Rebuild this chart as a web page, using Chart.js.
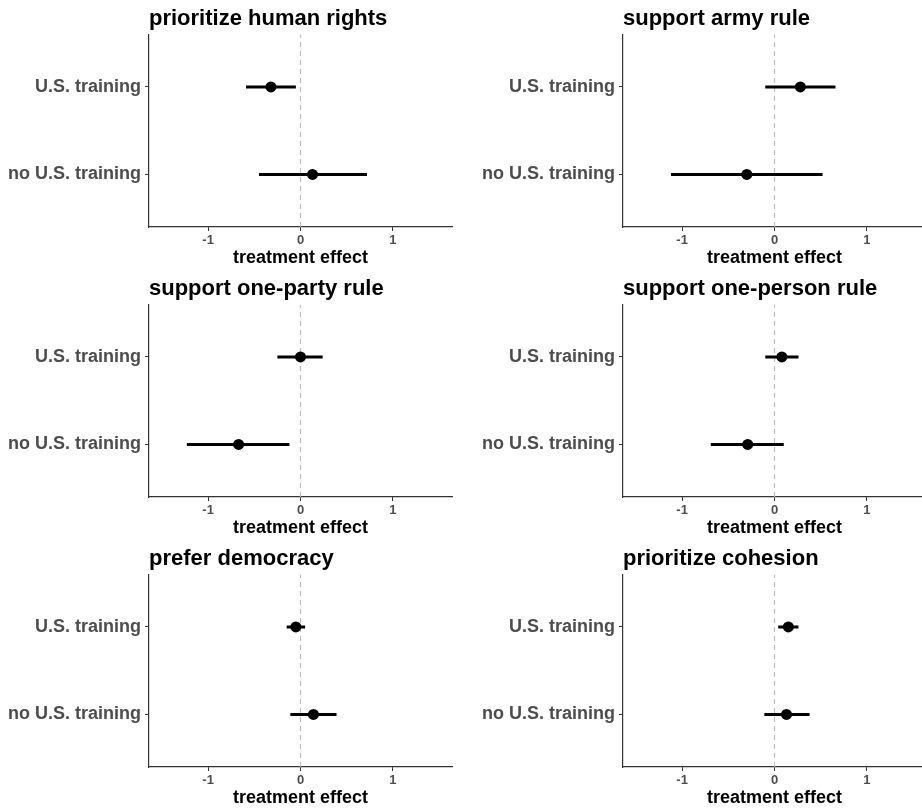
<!DOCTYPE html>
<html>
<head>
<meta charset="utf-8">
<script src="https://cdn.jsdelivr.net/npm/chart.js@4.4.0/dist/chart.umd.min.js"></script>
<style>
  body { margin: 0; background: #fff; width: 922px; height: 809px; overflow: hidden; position: relative; }
  canvas { position: absolute; }
</style>
</head>
<body>
<canvas id="p0" width="474" height="270" style="left:0px;top:0px"></canvas>
<canvas id="p1" width="474" height="270" style="left:474px;top:0px"></canvas>
<canvas id="p2" width="474" height="270" style="left:0px;top:270px"></canvas>
<canvas id="p3" width="474" height="270" style="left:474px;top:270px"></canvas>
<canvas id="p4" width="474" height="270" style="left:0px;top:540px"></canvas>
<canvas id="p5" width="474" height="270" style="left:474px;top:540px"></canvas>
<script>
// panel titles (row by row)
const titles = ['prioritize human rights', 'support army rule', 'support one-party rule',
                'support one-person rule', 'prefer democracy', 'prioritize cohesion']
const groups = ['U.S. training', 'no U.S. training']
const xTicks = [-1, 0, 1]

// estimates and intervals, one value per panel
const usEst  = [-0.32,  0.28,  0.00,  0.08, -0.05, 0.15]
const usLow  = [-0.59, -0.10, -0.25, -0.10, -0.15, 0.04]
const usHigh = [-0.05,  0.66,  0.24,  0.26,  0.05, 0.26]
const noEst  = [ 0.13, -0.30, -0.67, -0.29,  0.14, 0.13]
const noLow  = [-0.45, -1.12, -1.23, -0.69, -0.11, -0.11]
const noHigh = [ 0.72,  0.52, -0.12,  0.10,  0.39, 0.38]

const FONT = "'Liberation Sans', Arial, Helvetica, sans-serif"
const yPos = [2, 1] // U.S. training on top

function makePanel(i) {
    const rows = [
        { est: usEst[i], lo: usLow[i], hi: usHigh[i] },
        { est: noEst[i], lo: noLow[i], hi: noHigh[i] }
    ]
    const datasets = []
    datasets.push({
        data: rows.map((r, k) => ({ x: r.est, y: yPos[k] })),
        pointRadius: 5.5, backgroundColor: '#000', borderColor: '#000', borderWidth: 0, order: 0
    })
    rows.forEach((r, k) => {
        datasets.push({
            data: [{ x: r.lo, y: yPos[k] }, { x: r.hi, y: yPos[k] }],
            showLine: true, borderColor: '#000', borderWidth: 3, pointRadius: 0, order: 1
        })
    })
    // dashed reference line at zero
    datasets.push({
        data: [{ x: 0, y: 0.4 }, { x: 0, y: 2.6 }],
        showLine: true, borderColor: '#bdbdbd', borderWidth: 1.2, borderDash: [5, 4], pointRadius: 0, order: 2
    })

    new Chart(document.getElementById('p' + i), {
        type: 'scatter',
        data: { datasets: datasets },
        options: {
            responsive: false,
            animation: false,
            devicePixelRatio: 1,
            layout: { padding: { left: 0, right: 22, top: 0, bottom: 0 } },
            plugins: {
                legend: { display: false },
                tooltip: { enabled: false },
                title: {
                    display: true, text: titles[i], align: 'start', fullSize: false,
                    color: '#000', font: { family: FONT, size: 22, weight: 'bold' },
                    padding: { top: 6, bottom: 2 }
                }
            },
            scales: {
                x: {
                    type: 'linear', min: -1.64, max: 1.64,
                    afterBuildTicks: s => { s.ticks = xTicks.map(v => ({ value: v })) },
                    afterFit: s => { s.height = 43 },
                    grid: { drawOnChartArea: false, drawTicks: true, tickLength: 4, tickColor: '#333' },
                    border: { display: true, color: '#333', width: 1.2 },
                    ticks: { color: '#4d4d4d', padding: 2, font: { family: FONT, size: 13, weight: 'bold' } },
                    title: {
                        display: true, text: 'treatment effect', color: '#000',
                        font: { family: FONT, size: 18, weight: 'bold' }, padding: { top: 0, bottom: 1 }
                    }
                },
                y: {
                    type: 'linear', min: 0.4, max: 2.6,
                    afterBuildTicks: s => { s.ticks = yPos.map(v => ({ value: v })) },
                    afterFit: s => { s.width = 149 },
                    grid: { drawOnChartArea: false, drawTicks: true, tickLength: 4, tickColor: '#333' },
                    border: { display: true, color: '#333', width: 1.2 },
                    ticks: {
                        color: '#4d4d4d', padding: 4, font: { family: FONT, size: 18, weight: 'bold' },
                        callback: v => groups[yPos.indexOf(v)]
                    }
                }
            }
        }
    })
}

for (let i = 0; i < titles.length; i++) makePanel(i)
</script>
</body>
</html>
